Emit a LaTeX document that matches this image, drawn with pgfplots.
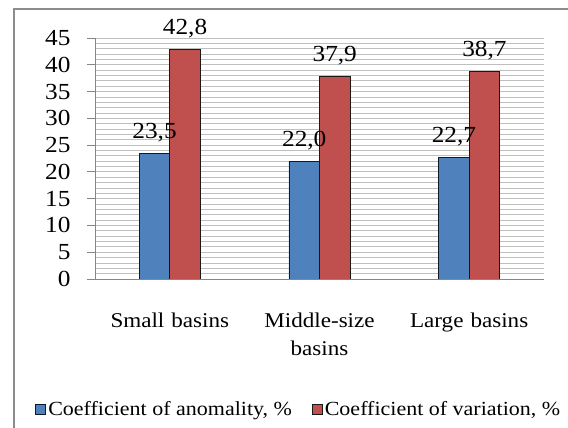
\documentclass[border=0pt]{standalone}
\usepackage{fontspec}
\setmainfont{Liberation Serif}[FakeStretch=1.1]
\usepackage{pgfplots}
\pgfplotsset{compat=1.18}
\definecolor{cblue}{HTML}{4F81BD}
\definecolor{cred}{HTML}{C0504D}
\definecolor{gridc}{HTML}{BFBFBF}
\definecolor{axc}{HTML}{868686}
\begin{document}
\begin{tikzpicture}[x=1pt,y=1pt]
\useasboundingbox (-95,-149) rectangle (473,279);
\draw[color=black!45, line width=2pt] (-81,270) rectangle (490,-170);
\begin{axis}[
  at={(0,0)}, anchor=south west,
  scale only axis,
  width=449pt, height=241pt,
  ybar=0pt, bar width=30.5pt,
  xmin=-0.5, xmax=2.5,
  ymin=0, ymax=45,
  ytick={0,5,...,45},
  minor y tick num=4,
  ymajorgrids, yminorgrids,
  major grid style={gridc, line width=0.8pt},
  minor grid style={gridc, line width=0.8pt},
  axis lines*=left,
  axis line style={axc, line width=0.8pt},
  xtick={0,1,2},
  xticklabels={Small basins, Middle-size basins, Large basins},
  x tick style={draw=none},
  y tick style={axc, line width=0.8pt},
  minor y tick style={draw=none},
  major tick length=8pt,
  tick align=outside,
  /pgf/number format/assume math mode=true,
  yticklabel style={font=\fontsize{23}{26}\selectfont, xshift=-13pt},
  xticklabel style={font=\fontsize{21}{28}\selectfont, align=center, text width=130pt, anchor=north, yshift=-22pt},
  nodes near coords,
  nodes near coords style={font=\fontsize{23}{26}\selectfont, anchor=base, yshift=15pt, inner sep=0pt,
    /pgf/number format/.cd, use comma, fixed, fixed zerofill, precision=1, assume math mode=true},
  legend columns=2,
  legend style={at={(0.454,-0.54)}, anchor=center, draw=none, fill=none,
    font=\fontsize{20}{23}\selectfont,
    /tikz/every even column/.append style={column sep=18pt}},
  legend image code/.code={\draw[#1] (0pt,-5pt) rectangle (10pt,5pt);},
]
\addplot[fill=cblue, draw=black!80!cblue, line width=0.8pt] coordinates {(0,23.5) (1,22.0) (2,22.7)};
\addplot[fill=cred, draw=black!90, line width=0.8pt] coordinates {(0,42.8) (1,37.9) (2,38.7)};
\legend{{Coefficient of anomality, \%}, {Coefficient of variation, \%}}
\end{axis}
\end{tikzpicture}
\end{document}
